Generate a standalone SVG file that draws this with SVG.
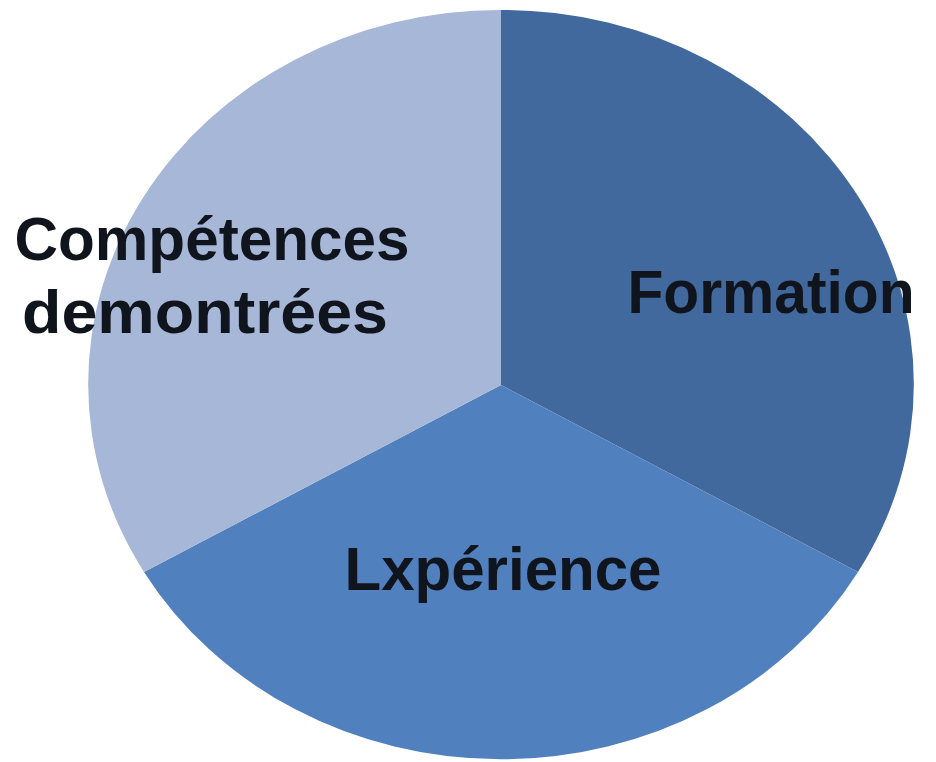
<svg xmlns="http://www.w3.org/2000/svg" width="936" height="762" viewBox="0 0 936 762">
<style>
.lbl{font-family:"Liberation Sans",Arial,sans-serif;font-weight:bold;font-size:62px;fill:#10141c;text-anchor:middle}
</style>
<rect width="936" height="762" fill="#ffffff"/>
<g id="slice-formation">
<path d="M501,385 L501,10 A412,374 0 0 1 858,572 Z" fill="#41699e"/>
<text class="lbl" x="771" y="313" textLength="287" lengthAdjust="spacingAndGlyphs">Formation</text>
</g>
<g id="slice-experience">
<path d="M501,385 L858,572 A412,374 0 0 1 144,572 Z" fill="#5081be"/>
<text class="lbl" x="503" y="590" textLength="317" lengthAdjust="spacingAndGlyphs">Lxpérience</text>
</g>
<g id="slice-competences">
<path d="M501,385 L144,572 A412,374 0 0 1 501,10 Z" fill="#a7b7d7"/>
<text class="lbl" x="212" y="260" textLength="395" lengthAdjust="spacingAndGlyphs">Compétences</text>
<text class="lbl" x="205" y="333" textLength="366" lengthAdjust="spacingAndGlyphs">demontrées</text>
</g>
</svg>
